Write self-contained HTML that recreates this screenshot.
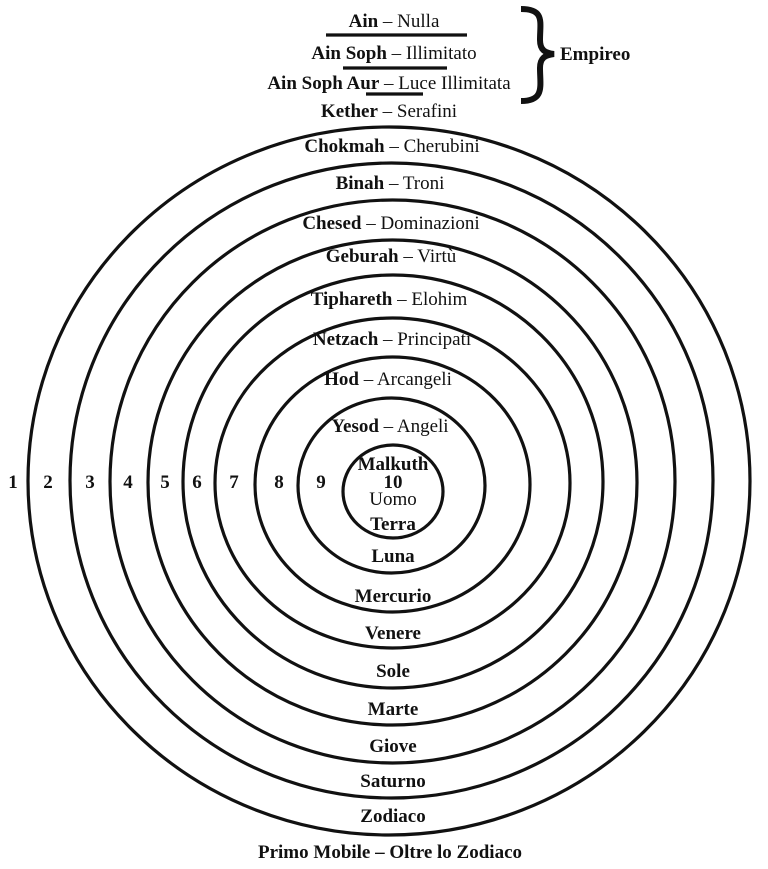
<!DOCTYPE html>
<html><head><meta charset="utf-8"><style>
html,body{margin:0;padding:0;background:#fff;}
svg{display:block;}
text{font-family:"Liberation Serif",serif;font-size:19px;fill:#111;}
.b{font-weight:bold;}
</style></head><body>
<svg width="768" height="869" viewBox="0 0 768 869" xmlns="http://www.w3.org/2000/svg">
<g fill="none" stroke="#111" stroke-width="3.2">
<ellipse cx="389" cy="481" rx="361" ry="354"/>
<ellipse cx="391.5" cy="480.5" rx="321.5" ry="317.5"/>
<ellipse cx="392.5" cy="481.5" rx="282.5" ry="281.5"/>
<ellipse cx="392.5" cy="482.5" rx="244.5" ry="242.5"/>
<ellipse cx="393" cy="481.5" rx="210" ry="206.5"/>
<ellipse cx="392.5" cy="483" rx="177.5" ry="165"/>
<ellipse cx="392.5" cy="484.5" rx="137.5" ry="127.5"/>
<ellipse cx="391.5" cy="485.5" rx="93.5" ry="87.5"/>
<ellipse cx="393" cy="491.5" rx="50" ry="46.5"/>
<line x1="326" y1="35" x2="467" y2="35"/>
<line x1="343" y1="68" x2="447" y2="68"/>
<line x1="366" y1="94" x2="423" y2="94"/>
</g>
<path d="M521,9 C545,9 540,22 540,40 C540,50 545,53 554,54 C545,55 540,58 540,68 C540,86 545,101 521,101" fill="none" stroke="#111" stroke-width="6"/>
<g text-anchor="middle">
<text x="394" y="27"><tspan class="b">Ain</tspan> – Nulla</text>
<text x="394" y="59"><tspan class="b">Ain Soph</tspan> – Illimitato</text>
<text x="389" y="89"><tspan class="b">Ain Soph Aur</tspan> – Luce Illimitata</text>
<text x="389" y="117"><tspan class="b">Kether</tspan> – Serafini</text>
<text x="392" y="152"><tspan class="b">Chokmah</tspan> – Cherubini</text>
<text x="390" y="189"><tspan class="b">Binah</tspan> – Troni</text>
<text x="391" y="229"><tspan class="b">Chesed</tspan> – Dominazioni</text>
<text x="391" y="262"><tspan class="b">Geburah</tspan> – Virtù</text>
<text x="389" y="305"><tspan class="b">Tiphareth</tspan> – Elohim</text>
<text x="392" y="345"><tspan class="b">Netzach</tspan> – Principati</text>
<text x="388" y="385"><tspan class="b">Hod</tspan> – Arcangeli</text>
<text x="390" y="432"><tspan class="b">Yesod</tspan> – Angeli</text>
<text x="393" y="470" class="b">Malkuth</text>
<text x="393" y="488" class="b">10</text>
<text x="393" y="505">Uomo</text>
<text x="393" y="530" class="b">Terra</text>
<text x="393" y="562" class="b">Luna</text>
<text x="393" y="602" class="b">Mercurio</text>
<text x="393" y="639" class="b">Venere</text>
<text x="393" y="677" class="b">Sole</text>
<text x="393" y="715" class="b">Marte</text>
<text x="393" y="752" class="b">Giove</text>
<text x="393" y="787" class="b">Saturno</text>
<text x="393" y="822" class="b">Zodiaco</text>
<text x="390" y="858" class="b">Primo Mobile – Oltre lo Zodiaco</text>
<text x="13" y="488" class="b">1</text>
<text x="48" y="488" class="b">2</text>
<text x="90" y="488" class="b">3</text>
<text x="128" y="488" class="b">4</text>
<text x="165" y="488" class="b">5</text>
<text x="197" y="488" class="b">6</text>
<text x="234" y="488" class="b">7</text>
<text x="279" y="488" class="b">8</text>
<text x="321" y="488" class="b">9</text>
</g>
<text x="560" y="60" class="b">Empireo</text>
</svg>
</body></html>
